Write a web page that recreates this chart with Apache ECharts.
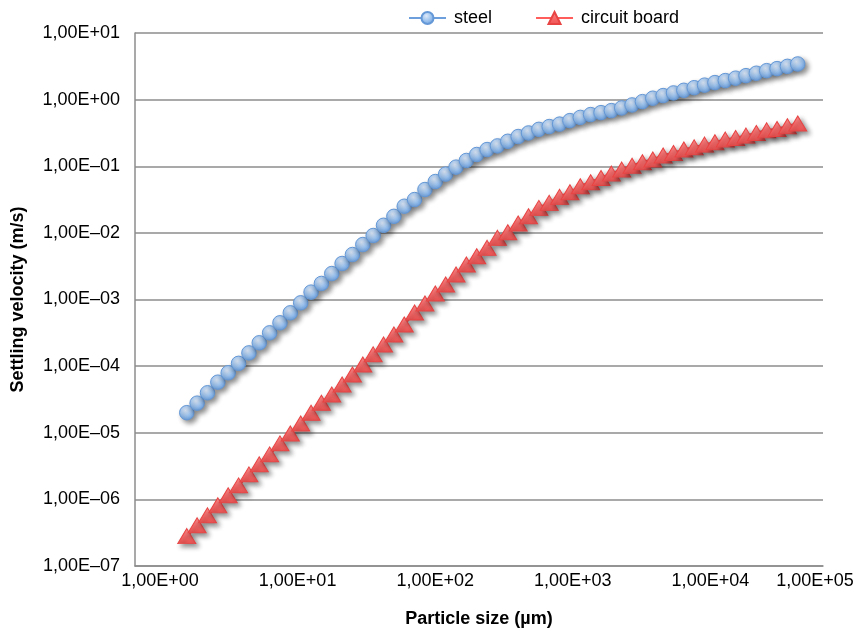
<!DOCTYPE html>
<html>
<head>
<meta charset="utf-8">
<script src="https://cdn.jsdelivr.net/npm/echarts@6/dist/echarts.min.js"></script>
<style>
html,body{margin:0;padding:0;background:#fff;}
#c{width:857px;height:639px;}
</style>
</head>
<body>
<div id="c"></div>
<script>
// Particle size (µm)
const particleSize = [2.378, 2.828, 3.364, 4, 4.757, 5.657, 6.727, 8, 9.514, 11.31,
  13.45, 16, 19.03, 22.63, 26.91, 32, 38.05, 45.25, 53.82, 64,
  76.11, 90.51, 107.6, 128, 152.2, 181.0, 215.3, 256, 304.4, 362.0,
  430.5, 512, 608.9, 724.1, 861.1, 1024, 1218, 1448, 1722, 2048,
  2436, 2896, 3444, 4096, 4871, 5793, 6889, 8192, 9742, 11585,
  13777, 16384, 19484, 23170, 27554, 32768, 38968, 46341, 55109, 65536];

// Settling velocity (m/s)
const steelVelocity = [2.00e-5, 2.78e-5, 3.98e-5, 5.74e-5, 7.94e-5, 1.10e-4, 1.58e-4, 2.24e-4, 3.16e-4, 4.47e-4,
  6.31e-4, 8.91e-4, 1.29e-3, 1.74e-3, 2.45e-3, 3.47e-3, 4.73e-3, 6.68e-3, 9.12e-3, 1.30e-2,
  1.77e-2, 2.51e-2, 3.16e-2, 4.47e-2, 5.89e-2, 7.62e-2, 9.70e-2, 0.122, 0.150, 0.178,
  0.202, 0.237, 0.279, 0.316, 0.358, 0.394, 0.429, 0.484, 0.541, 0.596,
  0.638, 0.684, 0.750, 0.832, 0.933, 1.05, 1.15, 1.26, 1.38, 1.51,
  1.65, 1.80, 1.93, 2.10, 2.29, 2.49, 2.72, 2.92, 3.16, 3.43];

const circuitVelocity = [2.81e-7, 4.07e-7, 5.75e-7, 8.13e-7, 1.15e-6, 1.62e-6, 2.37e-6, 3.35e-6, 4.73e-6, 6.92e-6,
  9.77e-6, 1.38e-5, 2.00e-5, 2.82e-5, 3.76e-5, 5.31e-5, 7.50e-5, 1.06e-4, 1.50e-4, 2.11e-4,
  2.99e-4, 4.22e-4, 6.38e-4, 8.71e-4, 1.23e-3, 1.68e-3, 2.37e-3, 3.35e-3, 4.47e-3, 5.96e-3,
  8.41e-3, 1.02e-2, 1.38e-2, 1.78e-2, 2.37e-2, 2.82e-2, 3.47e-2, 4.07e-2, 5.01e-2, 5.75e-2,
  6.68e-2, 7.76e-2, 8.91e-2, 0.102, 0.115, 0.126, 0.145, 0.158, 0.178, 0.192,
  0.211, 0.229, 0.251, 0.266, 0.288, 0.316, 0.346, 0.363, 0.398, 0.437];

const seriesNames = ['steel', 'circuit board'];
const xTickLabels = ['1,00E+00', '1,00E+01', '1,00E+02', '1,00E+03', '1,00E+04', '1,00E+05'];
const yTickLabels = ['1,00E\u201307', '1,00E\u201306', '1,00E\u201305', '1,00E\u201304', '1,00E\u201303',
  '1,00E\u201302', '1,00E\u201301', '1,00E+00', '1,00E+01'];

const FONT = '"Liberation Sans", Arial, sans-serif';
const chart = echarts.init(document.getElementById('c'), null, {renderer: 'canvas'});

function pairs(ys) { return particleSize.map((x, i) => [x, ys[i]]); }

const option = {
  backgroundColor: '#ffffff',
  animation: false,
  textStyle: {fontFamily: FONT},
  legend: {
    top: 4, left: 403,
    itemWidth: 37, itemHeight: 15, itemGap: 43,
    textStyle: {fontFamily: FONT, fontSize: 18, color: '#000', padding: [0, 0, 0, 3]},
    data: seriesNames
  },
  grid: {left: 135, right: 34, top: 33, bottom: 73, containLabel: false},
  xAxis: {
    type: 'log', logBase: 10, min: 1, max: 100000, splitNumber: 5,
    name: 'Particle size (\u00b5m)', nameLocation: 'middle', nameGap: 44,
    nameTextStyle: {fontFamily: FONT, fontSize: 18, fontWeight: 'bold', color: '#000'},
    axisLine: {show: true, lineStyle: {color: '#8c8c8c', width: 1.5}},
    axisTick: {show: false},
    splitLine: {show: false},
    minorTick: {show: false},
    axisLabel: {
      fontFamily: FONT, fontSize: 18, color: '#000', margin: 6,
      hideOverlap: false, showMinLabel: true, showMaxLabel: true,
      formatter: function (v) {
        const e = Math.round(Math.log10(v));
        const s = xTickLabels[e] || '';
        return e === xTickLabels.length - 1 ? '{l|' + s + '}' : '{n|' + s + '}';
      },
      rich: {
        n: {fontFamily: FONT, fontSize: 18, color: '#000', padding: [0, 0, 0, 50]},
        l: {fontFamily: FONT, fontSize: 18, color: '#000', padding: [0, 16, 0, 0]}
      }
    }
  },
  yAxis: {
    type: 'log', logBase: 10, min: 1e-7, max: 10, splitNumber: 8,
    name: 'Settling velocity (m/s)', nameLocation: 'middle', nameGap: 108, nameRotate: 90,
    nameTextStyle: {fontFamily: FONT, fontSize: 18, fontWeight: 'bold', color: '#000'},
    axisLine: {show: true, lineStyle: {color: '#8c8c8c', width: 1.5}},
    axisTick: {show: false},
    splitLine: {show: true, lineStyle: {color: '#8c8c8c', width: 1.5}},
    axisLabel: {
      fontFamily: FONT, fontSize: 18, color: '#000', margin: 15,
      showMinLabel: true, showMaxLabel: true,
      formatter: function (v) {
        const e = Math.round(Math.log10(v));
        return yTickLabels[e + 7] || '';
      }
    }
  },
  series: [
    {
      name: seriesNames[0], type: 'line', data: pairs(steelVelocity),
      symbol: 'circle', symbolSize: 14.5, z: 3,
      lineStyle: {color: '#6d9fdc', width: 2.5},
      itemStyle: {
        color: {type: 'radial', x: 0.42, y: 0.35, r: 0.65,
          colorStops: [{offset: 0, color: '#dde9f9'}, {offset: 0.6, color: '#97bfec'}, {offset: 1, color: '#6a9ddc'}]},
        borderColor: '#6598d6', borderWidth: 1,
        shadowBlur: 5, shadowOffsetX: 3, shadowOffsetY: 3, shadowColor: 'rgba(0,0,0,0.45)'
      }
    },
    {
      name: seriesNames[1], type: 'line', data: pairs(circuitVelocity),
      symbol: 'triangle', symbolSize: [18, 15], z: 4,
      lineStyle: {color: '#ff5c5c', width: 2.5},
      itemStyle: {
        color: {type: 'linear', x: 0, y: 0, x2: 0, y2: 1,
          colorStops: [{offset: 0, color: '#ff9090'}, {offset: 0.5, color: '#f86c6c'}, {offset: 1, color: '#ee5252'}]},
        borderColor: '#e84444', borderWidth: 1,
        shadowBlur: 5, shadowOffsetX: 3, shadowOffsetY: 3, shadowColor: 'rgba(0,0,0,0.45)'
      }
    }
  ]
};
chart.setOption(option);
</script>
</body>
</html>
